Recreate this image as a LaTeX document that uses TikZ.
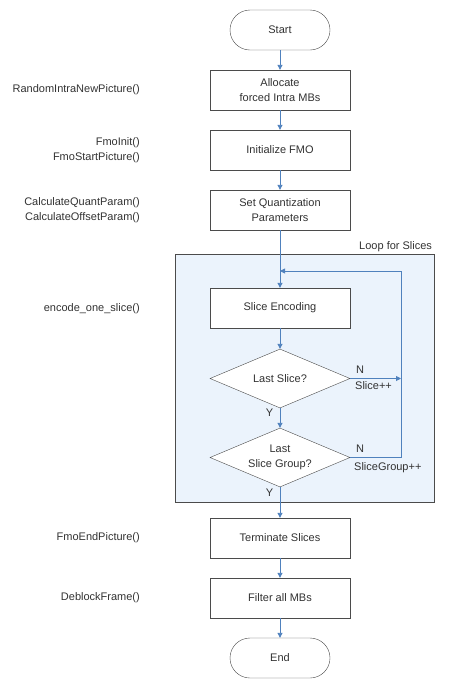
\documentclass[tikz,border=0pt]{standalone}
\usepackage{fontspec}
\setmainfont{Liberation Sans}
\usetikzlibrary{arrows.meta, positioning, shapes.geometric, calc}
\definecolor{FlowBlue}{RGB}{79, 129, 189}
\definecolor{LoopFill}{RGB}{235, 243, 252}
\definecolor{EdgeGray}{RGB}{75, 75, 75}
\definecolor{TextGray}{RGB}{50, 50, 50}

\begin{document}
\begin{tikzpicture}[x=1pt, y=-1pt, font=\fontsize{11}{14.5}\selectfont,
    every node/.style={text=TextGray},
    proc/.style={draw=EdgeGray, fill=white, minimum width=140pt, minimum height=40pt, align=center, inner sep=0pt},
    term/.style={proc, rounded corners=20pt, minimum width=100pt},
    decide/.style={diamond, draw=EdgeGray, fill=white, aspect=2.37, minimum width=140pt, minimum height=59pt, align=center, inner sep=0pt},
    func/.style={anchor=east, align=right, inner sep=0pt},
    tag/.style={anchor=west, inner sep=0pt},
    flow/.style={draw=FlowBlue, line width=0.9pt, -{Triangle[length=5pt, width=5pt]}}]
    \useasboundingbox (0,0) rectangle (449,691);
    % loop region
    \node[draw=EdgeGray, fill=LoopFill, minimum width=259pt, minimum height=248pt, inner sep=0pt] (loop) at (304.5,378) {};
    \node[anchor=south east, inner sep=2pt] (looplbl) at (loop.north east) {Loop for Slices};
    % flow steps
    \node[term] (start) at (280,30) {Start};
    \node[proc] (alloc) at (280,90) {Allocate\\forced Intra MBs};
    \node[proc] (fmo) at (280,150) {Initialize FMO};
    \node[proc] (quant) at (280,210) {Set Quantization\\Parameters};
    \node[proc] (enc) at (280,308) {Slice Encoding};
    \node[decide] (last) at (280,378.5) {Last Slice?};
    \node[decide] (group) at (280,457.5) {Last\\Slice Group?};
    \node[proc] (term) at (280,538) {Terminate Slices};
    \node[proc] (filter) at (280,598) {Filter all MBs};
    \node[term] (end) at (280,658) {End};
    % function names
    \node[func] (f1) at (140,90) {RandomIntraNewPicture()};
    \node[func] (f2) at (140,150) {FmoInit()\\FmoStartPicture()};
    \node[func] (f3) at (140,210) {CalculateQuantParam()\\CalculateOffsetParam()};
    \node[func] (f4) at (140,309) {encode\_one\_slice()};
    \node[func] (f5) at (140,538) {FmoEndPicture()};
    \node[func] (f6) at (140,598) {DeblockFrame()};
    % connectors
    \coordinate (merge) at (280,271);
    \coordinate (ret1) at (401,378.5);
    \coordinate (ret2) at (401,457.5);
    \coordinate (ret3) at (401,271);
    \draw[flow] (start) -- (alloc);
    \draw[flow] (alloc) -- (fmo);
    \draw[flow] (fmo) -- (quant);
    \draw[flow] (quant) -- (enc);
    \draw[flow] (enc) -- (last);
    \draw[flow] (last) -- (group);
    \draw[flow] (group) -- (term);
    \draw[flow] (term) -- (filter);
    \draw[flow] (filter) -- (end);
    \draw[flow] (last.east) -- (ret1);
    \draw[flow] (group.east) -- (ret2) -- (ret3) -- (merge);
    % branch labels
    \node[tag] (n1) at (356,370) {N};
    \node[tag] (s1) at (355,386) {Slice++};
    \node[tag] (n2) at (356,449) {N};
    \node[tag] (s2) at (354,467.5) {SliceGroup++};
    \node[anchor=east, inner sep=0pt] (y1) at (273.5,413) {Y};
    \node[anchor=east, inner sep=0pt] (y2) at (273.5,493) {Y};
\end{tikzpicture}
\end{document}
